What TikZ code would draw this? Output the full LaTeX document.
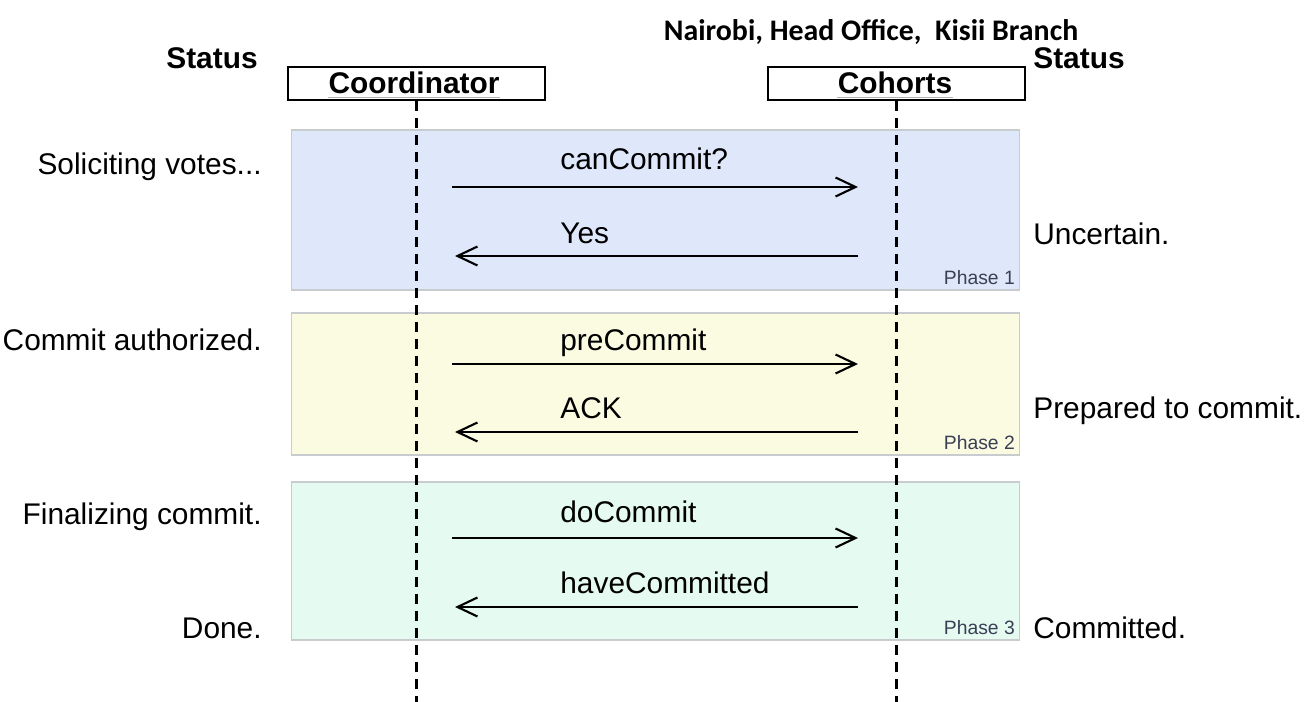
\documentclass[tikz,border=0pt]{standalone}
\usepackage{fontspec}
\setmainfont{Liberation Sans}
\newfontfamily\titlefont{Carlito}
\usetikzlibrary{arrows.meta}

\definecolor{phaseblue}{HTML}{DFE7FA}
\definecolor{phaseyellow}{HTML}{FAFBE1}
\definecolor{phasegreen}{HTML}{E5FAF0}
\definecolor{phaseedge}{HTML}{C9CCCF}
\definecolor{phasetext}{HTML}{3A3F55}

\begin{document}
\begin{tikzpicture}[x=0.02cm,y=-0.02cm,
    txt/.style={font=\fontsize{17}{20}\selectfont, inner sep=0pt},
    hdr/.style={inner sep=0pt, font=\fontsize{17}{20}\selectfont\bfseries},
    rolebox/.style={draw, line width=1.2pt, minimum width=5.14cm, minimum height=0.66cm, inner sep=0pt},
    phase/.style={draw=phaseedge, line width=0.6pt, inner sep=0pt},
    phasetag/.style={font=\fontsize{11}{13}\selectfont, text=phasetext, inner sep=0pt, anchor=south east},
    lifeline/.style={line width=1.4pt, dash pattern=on 0.2cm off 0.14cm},
    msg/.style={line width=1.2pt, -{Straight Barb[length=0.4cm, width=0.38cm, line width=1.2pt]}},
  ]
  \useasboundingbox (0,0) rectangle (1310,702);

  \node[hdr, font=\titlefont\fontsize{17}{20}\selectfont\bfseries, anchor=base] (title) at (871,41) {Nairobi, Head Office,\ \ Kisii Branch};

  % phases
  \node[phase, fill=phaseblue, minimum width=14.58cm, minimum height=3.2cm] (ph1) at (655.5,210) {};
  \node[phase, fill=phaseyellow, minimum width=14.58cm, minimum height=2.84cm] (ph2) at (655.5,384) {};
  \node[phase, fill=phasegreen, minimum width=14.58cm, minimum height=3.16cm] (ph3) at (655.5,561) {};
  \node[phasetag] (tag1) at ([shift={(-3pt,3pt)}]ph1.south east) {Phase 1};
  \node[phasetag] (tag2) at ([shift={(-3pt,3pt)}]ph2.south east) {Phase 2};
  \node[phasetag] (tag3) at ([shift={(-3pt,3pt)}]ph3.south east) {Phase 3};

  % participants
  \node[rolebox] (coord) at (416.5,83.5) {};
  \node[rolebox] (cohort) at (896.5,83.5) {};
  \node[hdr, anchor=base] (coordlbl) at (414,94) {Coordinator};
  \node[hdr, anchor=base] (cohortlbl) at (895,94) {Cohorts};
  \draw[gray!60, line width=0.8pt] ([yshift=-2pt]coordlbl.base west) -- ([yshift=-2pt]coordlbl.base east);
  \draw[gray!60, line width=0.8pt] ([yshift=-2pt]cohortlbl.base west) -- ([yshift=-2pt]cohortlbl.base east);
  \coordinate (coordend) at (416.5,702);
  \coordinate (cohortend) at (896.5,702);
  \draw[lifeline] (coord.south) -- (coordend);
  \draw[lifeline] (cohort.south) -- (cohortend);

  \node[hdr, anchor=base east] (statl) at (258,69) {Status};
  \node[hdr, anchor=base west] (statr) at (1033,69) {Status};

  % messages
  \coordinate (m1a) at (452,187); \coordinate (m1b) at (858,187);
  \coordinate (m2a) at (455,256); \coordinate (m2b) at (858,256);
  \coordinate (m3a) at (452,364); \coordinate (m3b) at (858,364);
  \coordinate (m4a) at (455,432); \coordinate (m4b) at (858,432);
  \coordinate (m5a) at (452,538); \coordinate (m5b) at (858,538);
  \coordinate (m6a) at (455,607); \coordinate (m6b) at (858,607);
  \draw[msg] (m1a) -- (m1b);
  \draw[msg] (m2b) -- (m2a);
  \draw[msg] (m3a) -- (m3b);
  \draw[msg] (m4b) -- (m4a);
  \draw[msg] (m5a) -- (m5b);
  \draw[msg] (m6b) -- (m6a);
  \node[txt, anchor=base west] (l1) at (560,170) {canCommit?};
  \node[txt, anchor=base west] (l2) at (560,244) {Yes};
  \node[txt, anchor=base west] (l3) at (560,350) {preCommit};
  \node[txt, anchor=base west] (l4) at (560,418) {ACK};
  \node[txt, anchor=base west] (l5) at (560,522) {doCommit};
  \node[txt, anchor=base west] (l6) at (560,593) {haveCommitted};

  % states
  \node[txt, anchor=base east] (s1) at (262,175) {Soliciting votes...};
  \node[txt, anchor=base east] (s2) at (262,350) {Commit authorized.};
  \node[txt, anchor=base east] (s3) at (262,524) {Finalizing commit.};
  \node[txt, anchor=base east] (s4) at (262,638) {Done.};
  \node[txt, anchor=base west] (r1) at (1033,245) {Uncertain.};
  \node[txt, anchor=base west] (r2) at (1033,418) {Prepared to commit.};
  \node[txt, anchor=base west] (r3) at (1033,638) {Committed.};
\end{tikzpicture}
\end{document}
